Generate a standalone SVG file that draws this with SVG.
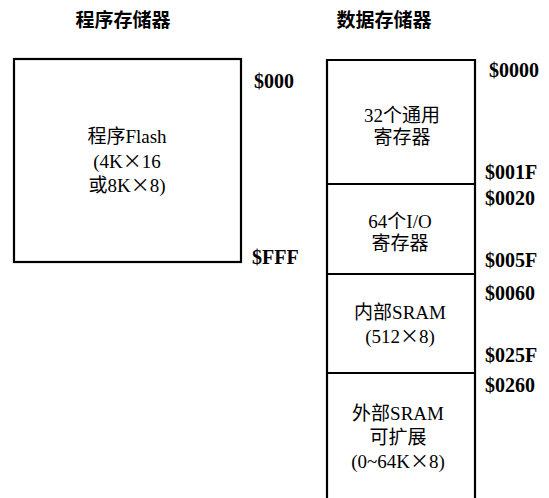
<svg xmlns="http://www.w3.org/2000/svg" width="549" height="498" viewBox="0 0 549 498">
<style>
.t{font-family:"Liberation Serif","Noto Sans CJK SC",serif;font-size:19px;fill:#000;text-anchor:middle}
.x{font-family:"Noto Sans CJK SC",sans-serif}
.h{font-family:"Liberation Serif","Noto Sans CJK SC",serif;font-size:19px;font-weight:bold;fill:#000;text-anchor:middle}
.a{font-family:"Liberation Serif","Noto Sans CJK SC",serif;font-size:20px;font-weight:bold;fill:#000}
.b{fill:#fff;stroke:#000;stroke-width:2.2}
.l{stroke:#000;stroke-width:2.2;fill:none}
</style>
<rect width="549" height="498" fill="#fff"/>
<text class="h" x="123" y="27">程序存储器</text>
<text class="h" x="384" y="27">数据存储器</text>
<g id="program-flash">
<rect class="b" x="14" y="59" width="227" height="203"/>
<text class="t" x="127" y="143">程序Flash</text>
<text class="t" x="127" y="168">(4K<tspan class="x">×</tspan>16</text>
<text class="t" x="127" y="192">或8K<tspan class="x">×</tspan>8)</text>
</g>
<g id="addr-program">
<text class="a" x="254" y="88">$000</text>
<text class="a" x="252" y="264">$FFF</text>
</g>
<g id="data-memory">
<path class="l" d="M327,498 V60 H475 V498"/>
</g>
<g id="gp-registers">
<text class="t" x="402" y="122">32个通用</text>
<text class="t" x="402" y="144">寄存器</text>
</g>
<g id="io-registers">
<path class="l" d="M327,184 H475"/>
<text class="t" x="400" y="228">64个I/O</text>
<text class="t" x="400" y="250">寄存器</text>
</g>
<g id="internal-sram">
<path class="l" d="M327,274 H475"/>
<text class="t" x="400" y="319">内部SRAM</text>
<text class="t" x="400" y="343">(512<tspan class="x">×</tspan>8)</text>
</g>
<g id="external-sram">
<path class="l" d="M327,373 H475"/>
<text class="t" x="398" y="420">外部SRAM</text>
<text class="t" x="398" y="444">可扩展</text>
<text class="t" x="398" y="468">(0~64K<tspan class="x">×</tspan>8)</text>
</g>
<g id="addr-data">
<text class="a" x="489" y="77">$0000</text>
<text class="a" x="485" y="179">$001F</text>
<text class="a" x="485" y="205">$0020</text>
<text class="a" x="485" y="267">$005F</text>
<text class="a" x="485" y="300">$0060</text>
<text class="a" x="485" y="362">$025F</text>
<text class="a" x="485" y="392">$0260</text>
</g>
<g id="connectors"></g>
</svg>
